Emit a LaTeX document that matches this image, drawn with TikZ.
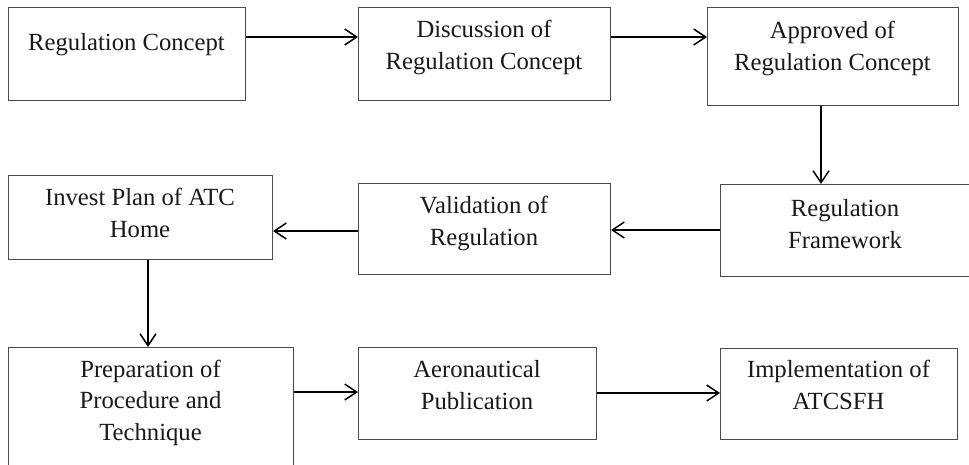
\documentclass[tikz,border=0pt]{standalone}
\usepackage{fontspec}
\setmainfont{Liberation Serif}
\usetikzlibrary{arrows.meta}
\begin{document}
\begin{tikzpicture}[x=0.75pt,y=-0.75pt,
  box/.style={draw=black!70, line width=0.75pt, inner sep=0pt, anchor=north west},
  lbl/.style={anchor=base, align=center, font=\fontsize{18.5}{23.3}\selectfont, text=black!90, inner sep=0pt},
  arr/.style={draw=black, line width=1.1pt, -{Straight Barb[length=9pt,width=12pt,line width=1.1pt]}}]
\useasboundingbox (0,0) rectangle (969,464);
\clip (0,0) rectangle (969,464);
\fill[white] (0,0) rectangle (969,464);

% boxes
\node[box, minimum width=237*0.75pt, minimum height=93*0.75pt] (b1) at (8,7) {};
\node[box, minimum width=252*0.75pt, minimum height=93*0.75pt] (b2) at (358,7) {};
\node[box, minimum width=251*0.75pt, minimum height=98*0.75pt] (b3) at (707,7) {};
\node[box, minimum width=251*0.75pt, minimum height=92*0.75pt] (b4) at (720,184) {};
\node[box, minimum width=252*0.75pt, minimum height=91*0.75pt] (b5) at (358,183) {};
\node[box, minimum width=264*0.75pt, minimum height=84*0.75pt] (b6) at (8,175) {};
\node[box, minimum width=285*0.75pt, minimum height=125*0.75pt] (b7) at (8,347) {};
\node[box, minimum width=238*0.75pt, minimum height=92*0.75pt] (b8) at (358,347) {};
\node[box, minimum width=237*0.75pt, minimum height=91*0.75pt] (b9) at (720,348) {};

% labels (anchored at the baseline of the last line)
\node[lbl] (t1) at (126.5,50) {Regulation Concept};
\node[lbl] (t2) at (484,69) {Discussion of\\Regulation Concept};
\node[lbl] (t3) at (832.5,70) {Approved of\\Regulation Concept};
\node[lbl] (t4) at (845,248) {Regulation\\Framework};
\node[lbl] (t5) at (484,245) {Validation of\\Regulation};
\node[lbl] (t6) at (140,237) {Invest Plan of ATC\\Home};
\node[lbl] (t7) at (150.5,440) {Preparation of\\Procedure and\\Technique};
\node[lbl] (t8) at (477,409) {Aeronautical\\Publication};
\node[lbl] (t9) at (838.5,409) {Implementation of\\ATCSFH};

% connectors
\draw[arr] (b1.east |- 0,37) -- (b2.west |- 0,37);
\draw[arr] (b2.east |- 0,37) -- (b3.west |- 0,37);
\draw[arr] (b3.south -| 821,0) -- (b4.north -| 821,0);
\draw[arr] (b4.west |- 0,230) -- (b5.east |- 0,230);
\draw[arr] (b5.west |- 0,231) -- (b6.east |- 0,231);
\draw[arr] (b6.south -| 148,0) -- (b7.north -| 148,0);
\draw[arr] (b7.east |- 0,392) -- (b8.west |- 0,392);
\draw[arr] (b8.east |- 0,393) -- (b9.west |- 0,393);
\end{tikzpicture}
\end{document}
